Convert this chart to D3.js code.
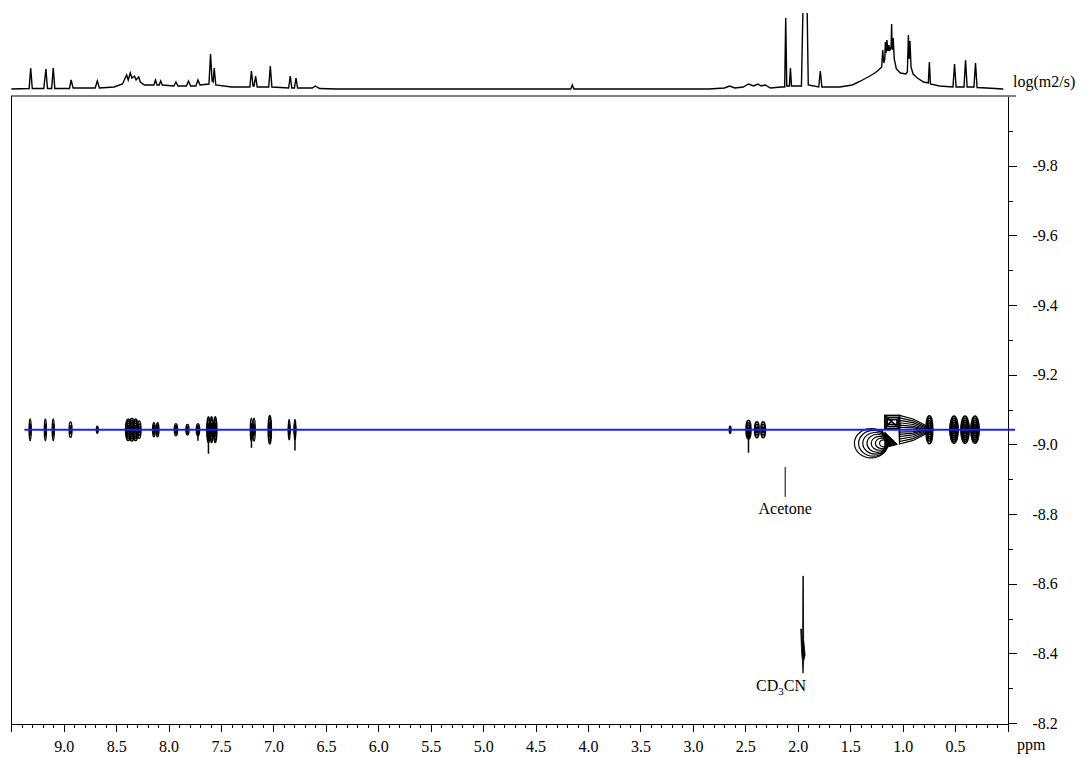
<!DOCTYPE html>
<html>
<head>
<meta charset="utf-8">
<script src="https://d3js.org/d3.v7.min.js"></script>
<style>
  body { margin: 0; background: #fff; }
  svg { display: block; font-family: "Liberation Serif", "Times New Roman", serif; }
  .axis text { font-size: 16px; fill: #000; font-family: "Liberation Serif", serif; }
  .axis path, .axis line { stroke: #000; shape-rendering: crispEdges; }
</style>
</head>
<body>
<svg id="chart" width="1091" height="757"></svg>
<script>
// ---- data ----
// x tick labels (ppm) and y tick labels (log D)
var xTickLabels = [9.0, 8.5, 8.0, 7.5, 7.0, 6.5, 6.0, 5.5, 5.0, 4.5, 4.0, 3.5, 3.0, 2.5, 2.0, 1.5, 1.0, 0.5];
var yTickLabels = [-9.8, -9.6, -9.4, -9.2, -9.0, -8.8, -8.6, -8.4, -8.2];

// 1D projection on top: [ppm, intensity] vertices
var projection = [
  [9.50,0],[9.33,0.5],[9.315,21],[9.30,0.5],
  [9.19,0.5],[9.17,20],[9.155,0.5],
  [9.115,0.5],[9.10,21],[9.085,0.5],
  [8.945,0.5],[8.93,9],[8.91,1],
  [8.70,1],[8.68,8],[8.66,1],
  [8.52,2],[8.44,5],[8.40,14],[8.385,9],[8.365,16],[8.35,11],[8.325,13],[8.31,9],[8.285,12],[8.27,7],[8.23,4],
  [8.14,4],[8.125,9],[8.11,4],[8.09,4],[8.075,8],[8.06,4],
  [7.95,3],[7.93,7],[7.91,3],
  [7.83,3],[7.81,8],[7.79,3],
  [7.74,3],[7.72,9],[7.70,4],
  [7.615,5],[7.60,35],[7.585,8],[7.575,7],[7.565,21],[7.55,4],
  [7.40,2],[7.225,2],[7.21,18],[7.195,3],[7.185,3],[7.17,13],[7.155,2],
  [7.045,2],[7.03,23],[7.015,2],
  [6.855,1],[6.84,13],[6.825,1],[6.80,1],[6.785,11],[6.77,1],
  [6.63,1],[6.60,3],[6.56,0.5],[6.40,0],
  [4.165,0],[4.15,4],[4.135,0],
  [2.85,0],[2.70,1],[2.65,3],[2.60,1],[2.52,2],[2.47,5],[2.42,3],[2.38,5],[2.35,3],[2.31,4],[2.26,1],[2.16,2],
  [2.125,2],[2.115,71],[2.105,3],[2.08,3],[2.07,21],[2.06,3],
  [1.965,3],[1.945,110],[1.93,100],[1.915,110],[1.90,4],
  [1.80,2],[1.785,18],[1.77,2],
  [1.60,2],[1.48,4],[1.40,8],[1.33,12],[1.28,15],[1.24,18],
  [1.20,22],[1.19,39],[1.18,26],[1.17,30],[1.165,47],[1.16,36],[1.155,38],[1.15,49],[1.14,38],[1.13,44],
  [1.125,38],[1.11,42],[1.105,65],[1.10,40],[1.095,40],[1.09,51],[1.08,30],[1.06,20],[1.02,16],[0.97,15],
  [0.955,17],[0.945,54],[0.938,30],[0.93,48],[0.92,22],[0.90,15],[0.86,11],[0.80,7],
  [0.755,6],[0.745,27],[0.735,5],
  [0.65,3],[0.52,2],[0.505,25],[0.49,2],[0.415,2],[0.40,29],[0.385,2],[0.32,2],[0.305,26],[0.29,1.5],[0.20,1],[0.04,0]
];

// DOSY cross peaks: ppm, log D, half width (ppm), half height (log D), contour levels
var spotPpm   = [9.32, 9.175, 9.10, 8.935, 8.68, 8.385, 8.35, 8.315, 8.28, 8.14, 8.105, 7.93, 7.82, 7.72, 7.62, 7.59, 7.555, 7.21, 7.185, 7.035, 6.85, 6.795, 2.645, 2.47, 2.39, 2.33, 0.745, 0.51, 0.405, 0.31];
var spotLogD  = [-9.042, -9.042, -9.042, -9.042, -9.042, -9.042, -9.042, -9.042, -9.042, -9.042, -9.042, -9.042, -9.042, -9.042, -9.042, -9.042, -9.042, -9.042, -9.042, -9.042, -9.042, -9.042, -9.042, -9.042, -9.042, -9.042, -9.042, -9.042, -9.042, -9.042];
var spotHalfW = [0.009, 0.009, 0.009, 0.013, 0.008, 0.025, 0.025, 0.025, 0.016, 0.012, 0.012, 0.015, 0.014, 0.015, 0.015, 0.015, 0.015, 0.010, 0.010, 0.015, 0.008, 0.008, 0.008, 0.024, 0.022, 0.022, 0.032, 0.040, 0.040, 0.040];
var spotHalfH = [0.031, 0.031, 0.031, 0.022, 0.010, 0.031, 0.033, 0.031, 0.025, 0.020, 0.020, 0.017, 0.015, 0.017, 0.037, 0.037, 0.037, 0.033, 0.033, 0.041, 0.029, 0.029, 0.010, 0.027, 0.023, 0.023, 0.040, 0.039, 0.039, 0.039];
var spotLevels = [2, 2, 2, 2, 1, 5, 5, 5, 3, 3, 3, 3, 3, 3, 4, 4, 4, 2, 2, 4, 2, 2, 1, 4, 3, 3, 6, 7, 7, 7];

// streaks hanging below some peaks: ppm, lowest log D reached
var tailPpm  = [7.62, 7.72, 7.21, 6.795, 2.47];
var tailLogD = [-8.973, -9.01, -8.99, -8.982, -8.976];

// overlapping aliphatic signals 1.45-0.7 ppm
var shellRx = [0.160, 0.140, 0.120, 0.100, 0.080, 0.060, 0.040];
var shellRy = [0.042, 0.037, 0.031, 0.026, 0.020, 0.015, 0.010];
var fanHalfH = [0.041, 0.034, 0.027, 0.020, 0.013, 0.007];
var fanTip   = [0.70, 0.72, 0.74, 0.76, 0.78, 0.80];

// solvent streak (CD3CN)
var cd3cnShape = [[1.951,-8.622],[1.947,-8.622],[1.944,-8.44],[1.93,-8.395],[1.944,-8.378],[1.95,-8.343],
  [1.956,-8.38],[1.963,-8.40],[1.972,-8.47],[1.966,-8.47],[1.958,-8.43],[1.954,-8.45]];

var diffusionLine = -9.042;

// ---- chart ----
var svg = d3.select("#chart");
svg.append("rect").attr("width", 1091).attr("height", 757).attr("fill", "#fff");

var x = d3.scaleLinear().domain([9.5, 0]).range([11.3, 1007.5]);
var y = d3.scaleLinear().domain([-10.0, -8.2]).range([96, 723]);
var yProj = d3.scaleLinear().domain([0, 80]).range([89, 9]);
var toXY = d3.line().x(function(d) { return x(d[0]); }).y(function(d) { return y(d[1]); });

// projection spectrum
svg.append("clipPath").attr("id", "projClip")
  .append("rect").attr("x", 0).attr("y", 13).attr("width", 1010).attr("height", 81);

svg.append("path")
  .datum(projection)
  .attr("clip-path", "url(#projClip)")
  .attr("fill", "none")
  .attr("stroke", "#000")
  .attr("stroke-width", 1.4)
  .attr("d", d3.line().x(function(d) { return x(d[0]); }).y(function(d) { return yProj(d[1]); }));

// frame
svg.append("line").attr("x1", 11).attr("x2", 1016).attr("y1", 96).attr("y2", 96)
  .attr("stroke", "#808080").attr("stroke-width", 2);
svg.append("line").attr("x1", 11.5).attr("x2", 11.5).attr("y1", 96).attr("y2", 731)
  .attr("stroke", "#000").attr("stroke-width", 1);

// bottom axis
svg.append("g").attr("class", "axis")
  .attr("transform", "translate(0,723.5)")
  .call(d3.axisBottom(x).tickValues([9.5].concat(xTickLabels, [0]))
    .tickFormat(function(d) { return (d === 0 || d === 9.5) ? "" : d.toFixed(1); })
    .tickSize(8).tickSizeOuter(0).tickPadding(9));
svg.append("g").attr("class", "axis")
  .attr("transform", "translate(0,723.5)")
  .call(d3.axisBottom(x).tickValues(d3.range(1, 95).filter(function(i) { return i % 5 !== 0; }).map(function(i) { return i / 10; }))
    .tickFormat("").tickSize(4).tickSizeOuter(0))
  .select(".domain").remove();

// right axis
svg.append("g").attr("class", "axis")
  .attr("transform", "translate(1007.5,0)")
  .call(d3.axisRight(y).tickValues(yTickLabels)
    .tickFormat(function(d) { return d.toFixed(1); })
    .tickSize(9).tickSizeOuter(0).tickPadding(16));
svg.append("g").attr("class", "axis")
  .attr("transform", "translate(1007.5,0)")
  .call(d3.axisRight(y).tickValues([-9.9, -9.7, -9.5, -9.3, -9.1, -8.9, -8.7, -8.5, -8.3])
    .tickFormat("").tickSize(5).tickSizeOuter(0))
  .select(".domain").remove();

svg.append("text").attr("x", 1013).attr("y", 87).attr("font-size", 16).text("log(m2/s)");
svg.append("text").attr("x", 1017).attr("y", 750).attr("font-size", 16).text("ppm");

// contours
var gc = svg.append("g").attr("fill", "none").attr("stroke", "#000");
spotPpm.forEach(function(p, i) {
  var n = spotLevels[i];
  var rxPx = x(p - spotHalfW[i]) - x(p);
  var ryPx = y(spotLogD[i] + spotHalfH[i]) - y(spotLogD[i]);
  for (var k = 1; k <= n; k++) {
    gc.append("ellipse")
      .attr("cx", x(p)).attr("cy", y(spotLogD[i]))
      .attr("rx", Math.max(0.7, rxPx * k / n)).attr("ry", ryPx * k / n)
      .attr("stroke-width", 1.5);
  }
});

tailPpm.forEach(function(p, i) {
  gc.append("line")
    .attr("x1", x(p)).attr("x2", x(p))
    .attr("y1", y(diffusionLine)).attr("y2", y(tailLogD[i]))
    .attr("stroke-width", 1.5);
});

// shell of rings anchored near 1.14 ppm
var shellAnchor = 1.14, shellCenter = -9.003;
shellRx.forEach(function(r, i) {
  var cxp = shellAnchor + r;
  gc.append("ellipse")
    .attr("cx", x(cxp)).attr("cy", y(shellCenter))
    .attr("rx", x(shellAnchor) - x(cxp)).attr("ry", y(shellCenter + shellRy[i]) - y(shellCenter))
    .attr("stroke-width", 1.2);
});
gc.append("path")
  .attr("d", toXY([[1.17, -9.035], [1.05, -9.0], [1.17, -8.99]]) + "Z")
  .attr("fill", "#000");
gc.append("path").attr("stroke-width", 1.4)
  .attr("d", toXY([[1.20, -9.042], [1.14, -9.0], [1.20, -8.975]]));

// boxes with crossing lines
[0, 1, 2].forEach(function(k) {
  var x0 = x(1.17 - k * 0.012), x1 = x(1.03 + k * 0.012);
  var y0 = y(-9.083 + k * 0.006), y1 = y(-9.045 - k * 0.006);
  gc.append("rect").attr("x", x0).attr("y", y0).attr("width", x1 - x0).attr("height", y1 - y0)
    .attr("stroke-width", 1.6);
});
gc.append("path").attr("stroke-width", 1.5)
  .attr("d", toXY([[1.17, -9.083], [1.03, -9.045]]) + toXY([[1.17, -9.045], [1.10, -9.07]]));

// fan converging to the right
fanHalfH.forEach(function(h, i) {
  var pts = [[1.03, diffusionLine - h], [0.90, diffusionLine - h * 0.75], [fanTip[i], diffusionLine],
             [0.90, diffusionLine + h * 0.75], [1.03, diffusionLine + h]];
  gc.append("path")
    .attr("d", toXY(pts) + "Z")
    .attr("stroke-width", 1.2);
});

// solvent
svg.append("path")
  .attr("d", toXY(cd3cnShape) + "Z")
  .attr("fill", "#000").attr("stroke", "#000").attr("stroke-width", 0.8);

// acetone marker
svg.append("line").attr("x1", x(2.12)).attr("x2", x(2.12)).attr("y1", y(-8.935)).attr("y2", y(-8.849))
  .attr("stroke", "#000").attr("stroke-width", 1);
svg.append("text").attr("x", x(2.12)).attr("y", y(-8.80)).attr("text-anchor", "middle")
  .attr("font-size", 16).text("Acetone");

var cd = svg.append("text").attr("x", x(2.16)).attr("y", y(-8.293)).attr("text-anchor", "middle").attr("font-size", 16);
cd.append("tspan").text("CD");
cd.append("tspan").attr("font-size", 11).attr("dy", 4).text("3");
cd.append("tspan").attr("dy", -4).text("CN");

// blue fitted diffusion line
svg.append("line")
  .attr("x1", x(9.375)).attr("x2", x(-0.072))
  .attr("y1", y(diffusionLine)).attr("y2", y(diffusionLine))
  .attr("stroke", "#1e1eff").attr("stroke-width", 2);
</script>
</body>
</html>
